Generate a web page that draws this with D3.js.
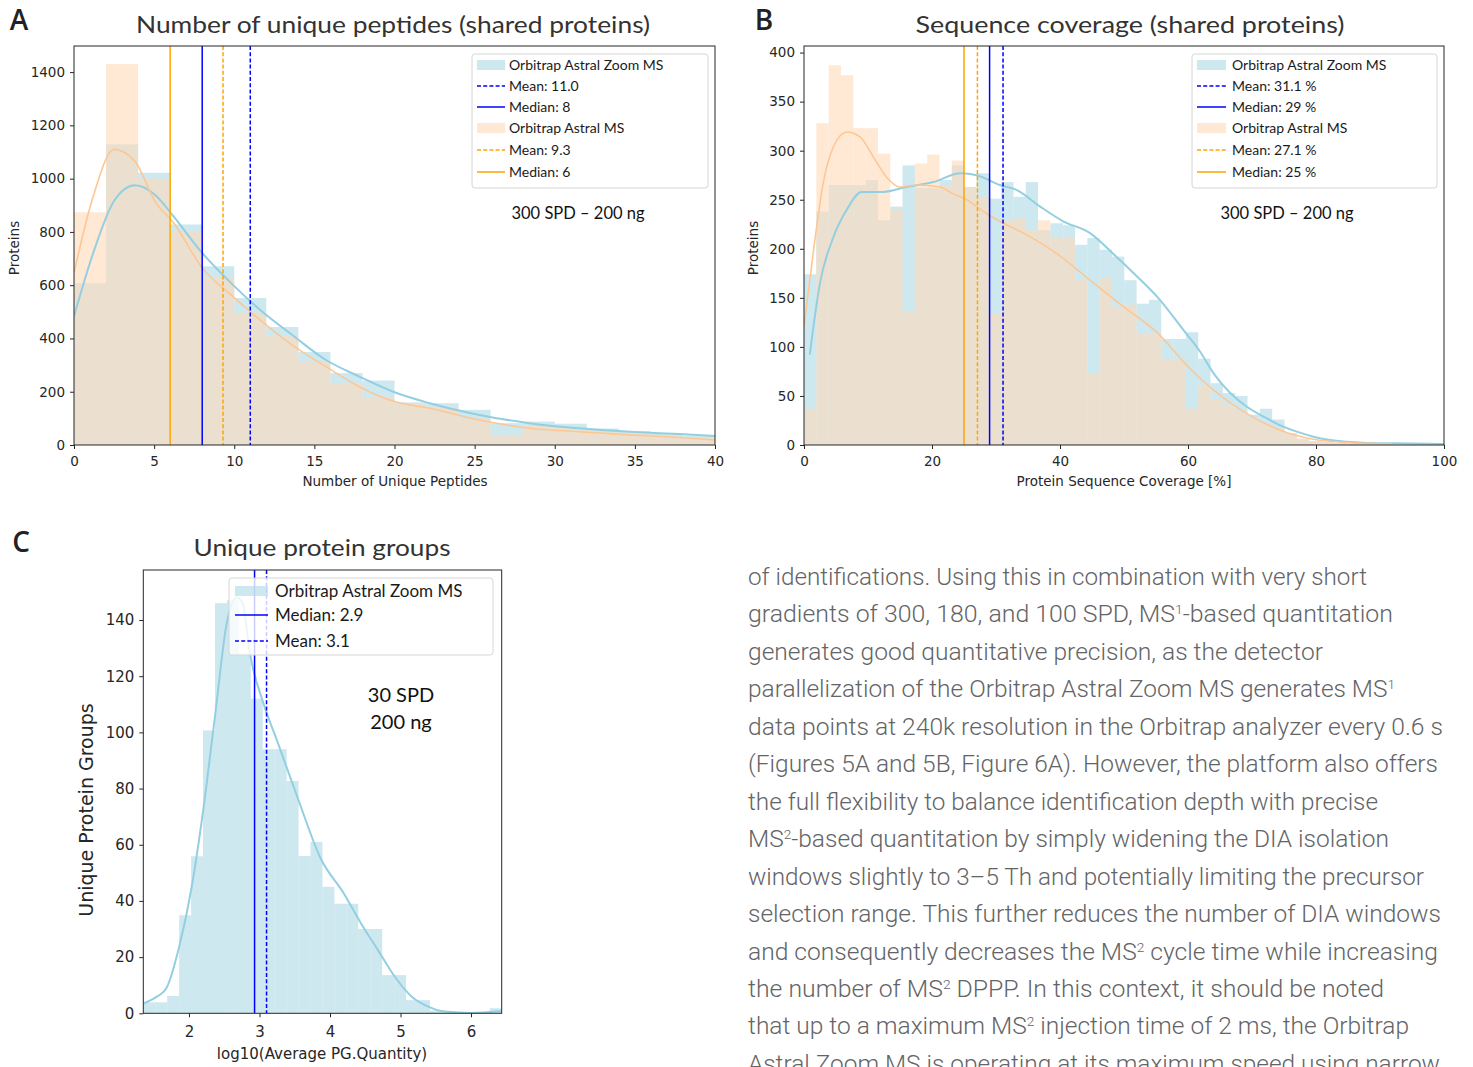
<!DOCTYPE html>
<html><head><meta charset="utf-8">
<script src="https://cdn.jsdelivr.net/npm/d3@7"></script>
<style>body{margin:0;background:#fff;overflow:hidden}</style>
</head><body>
<script>
// ================= DATA =================
// Panel A : number of unique peptides
const pepBinStart = 0, pepBinWidth = 2;
const pepCountsZoom   = [608,1129,1022,828,671,552,443,349,270,242,160,157,132,82,88,80,62,52,42,35];
const pepCountsAstral = [874,1430,1000,800,630,497,408,314,233,177,155,140,100,38,75,65,55,45,38,30];
const pepKdeX      = [0,1.2,2.5,3.8,5.1,6.2,8,9.9,11.6,13.6,15.7,17.8,20,22.2,25.3,28.4,31.5,34.7,37.8,40];
const pepKdeZoom   = [483,721,916,975,937,859,721,602,508,414,320,257,198,157,113,82,63,50,41,34];
const pepKdeAstral = [646,934,1110,1065,910,835,665,558,470,376,295,219,163,138,94,63,50,38,28,19];
const pepStatValues = [11.0, 8, 9.3, 6];          // zoom mean, zoom median, astral mean, astral median
const pepLegendLabels = ["Orbitrap Astral Zoom MS","Mean: 11.0","Median: 8","Orbitrap Astral MS","Mean: 9.3","Median: 6"];
const pepXTicks = [0,5,10,15,20,25,30,35,40];
const pepYTicks = [0,200,400,600,800,1000,1200,1400];

// Panel B : sequence coverage
const covBinStart = 0, covBinWidth = 1.925;
const covCountsZoom   = [174,238,265,265,265,270,229,243,285,262,262,270,285,263,277,251,268,253,268,219,226,224,204,211,199,192,168,144,148,108,108,115,88,63,53,50,31,37,26,12,6,4,3,2,1,1,1,0.5,0.5,0.5,0.5,0.5];
const covCountsAstral = [37,328,387,377,323,323,297,240,136,287,296,265,290,262,253,134,229,231,219,229,211,211,168,73,170,141,143,114,114,87,87,37,61,46,40,35,28,22,17,12,7,4,3,2,1,1,0.5,0,0,0,0,0];
const covKdeZoomX = [0.9,2.5,4.6,6.7,9.0,12.4,16.0,20.2,24.4,27,30.6,33.2,36.9,40.5,44.7,48.3,52,55.6,59.3,61.9,64,66.6,69.2,71.8,74.4,77,79.6,82.2,84.8,87.3,92.6,100];
const covKdeZoomY = [92,165,212,240,258,258,263,268,277,275,265,260,243,228,216,195,172,148,117,95,73,53,39,29,20,13.6,8.5,5,3.4,2.4,1.7,1];
const covKdeAstralX = [0,1.5,3.0,4.6,6.7,8.75,10.8,12.9,15,17.6,21.25,23.3,25.4,28.5,30.6,34.3,39.5,44.7,49.9,55.1,60.3,64,69.2,74.4,79.6,84.8,92];
const covKdeAstralY = [121,199,267,304,319,314,294,273,263,265,263,256,250,236,228,216,195,168,141,115,78,56,32,15,5.8,2.4,1];
const covStatValues = [31.1, 29, 27.1, 25];
const covLegendLabels = ["Orbitrap Astral Zoom MS","Mean: 31.1 %","Median: 29 %","Orbitrap Astral MS","Mean: 27.1 %","Median: 25 %"];
const covXTicks = [0,20,40,60,80,100];
const covYTicks = [0,50,100,150,200,250,300,350,400];

// Panel C : unique protein groups
const qtyBinStart = 1.352, qtyBinWidth = 0.1694;
const qtyCounts = [3.9,3.9,6.2,34.9,55.9,100.7,146,147,128,112,94,94,82.7,56,61,45,39,39,30,30,13.6,13.6,4.7,4.7,1,0.5,0,0,0,1.8];
const qtyKdeX = [1.352,1.51,1.68,1.86,2.03,2.2,2.37,2.54,2.68,2.76,2.865,3.06,3.25,3.54,3.87,4.2,4.44,4.68,4.92,5.16,5.4,5.63,6.0,6.435];
const qtyKdeY = [3.5,5.4,9,23.6,43.8,72,106,139.5,148,146,128,110,97,76.8,55,42.5,32,22.5,13,5.9,2.3,0.6,0.1,0.8];
const qtyStatValues = [2.93, 3.1];   // median, mean
const qtyLegendLabels = ["Orbitrap Astral Zoom MS","Median: 2.9","Mean: 3.1"];
const qtyXTicks = [2,3,4,5,6];
const qtyYTicks = [0,20,40,60,80,100,120,140];

// Body text
const paraLines = [
 "of identifications. Using this in combination with very short",
 "gradients of 300, 180, and 100 SPD, MS^1-based quantitation",
 "generates good quantitative precision, as the detector",
 "parallelization of the Orbitrap Astral Zoom MS generates MS^1",
 "data points at 240k resolution in the Orbitrap analyzer every 0.6 s",
 "(Figures 5A and 5B, Figure 6A). However, the platform also offers",
 "the full flexibility to balance identification depth with precise",
 "MS^2-based quantitation by simply widening the DIA isolation",
 "windows slightly to 3\u20135 Th and potentially limiting the precursor",
 "selection range. This further reduces the number of DIA windows",
 "and consequently decreases the MS^2 cycle time while increasing",
 "the number of MS^2 DPPP. In this context, it should be noted",
 "that up to a maximum MS^2 injection time of 2 ms, the Orbitrap",
 "Astral Zoom MS is operating at its maximum speed using narrow"
];

// ================= LAYOUT / STYLE =================
const paraLineEnds = [1367,1393,1323,1395,1443,1438,1378,1389,1424,1441,1438,1384,1409,1440];
const BLUE_FILL = "#add8e6", ORANGE_FILL = "#ffdab9";
const BLUE_KDE = "#93cfe1", ORANGE_KDE = "#fcc794";
const LINE_BLUE = "#0000ff", LINE_ORANGE = "#ffa500";
const TXT = "#262626";
const UI_FONT = "Lato, 'Open Sans', sans-serif";

const svg = d3.select("body").append("svg").attr("width",1473).attr("height",1067)
  .style("font-family","'DejaVu Sans', sans-serif");

let clipId = 0;
function makePanel(o){
  const x = d3.scaleLinear().domain(o.xDomain).range([o.left,o.right]);
  const y = d3.scaleLinear().domain(o.yDomain).range([o.bottom,o.top]);
  const g = svg.append("g");
  const id = "clip"+(clipId++);
  g.append("clipPath").attr("id",id).append("rect")
    .attr("x",o.left).attr("y",o.top).attr("width",o.right-o.left).attr("height",o.bottom-o.top);
  const plot = g.append("g").attr("clip-path",`url(#${id})`);
  return {x,y,g,plot,o};
}
function bars(p, start, width, counts, fill){
  const data = counts.map((c,i)=>({x0:start+i*width, x1:start+(i+1)*width, c}));
  p.plot.append("g").selectAll("rect").data(data).join("rect")
    .attr("x",d=>p.x(d.x0)).attr("width",d=>p.x(d.x1)-p.x(d.x0))
    .attr("y",d=>p.y(d.c)).attr("height",d=>p.y(0)-p.y(d.c))
    .attr("fill",fill).attr("fill-opacity",0.6);
}
function kde(p, xs, ys, color, w){
  const line = d3.line().x(d=>p.x(d[0])).y(d=>p.y(d[1])).curve(d3.curveMonotoneX);
  p.plot.append("path").datum(xs.map((v,i)=>[v,ys[i]])).attr("d",line)
    .attr("fill","none").attr("stroke",color).attr("stroke-width",w);
}
function vline(p, v, color, dashed){
  p.plot.append("line").attr("x1",p.x(v)).attr("x2",p.x(v))
    .attr("y1",p.o.top).attr("y2",p.o.bottom)
    .attr("stroke",color).attr("stroke-width",1.5)
    .attr("stroke-dasharray",dashed?"4,2.2":null);
}
function axes(p, xTicks, yTicks, fs, xpad){
  const o = p.o;
  const ax = p.g.append("g").attr("transform",`translate(0,${o.bottom})`)
    .call(d3.axisBottom(p.x).tickValues(xTicks).tickSize(4).tickPadding(xpad).tickFormat(d3.format("d")));
  const ay = p.g.append("g").attr("transform",`translate(${o.left},0)`)
    .call(d3.axisLeft(p.y).tickValues(yTicks).tickSize(4).tickPadding(5).tickFormat(d3.format("d")));
  [ax,ay].forEach(a=>{
    a.select(".domain").remove();
    a.selectAll("line").attr("stroke",TXT);
    a.selectAll("text").attr("font-size",fs).attr("fill",TXT).attr("font-family","'DejaVu Sans', sans-serif");
  });
  p.g.append("rect").attr("x",o.left).attr("y",o.top).attr("width",o.right-o.left).attr("height",o.bottom-o.top)
    .attr("fill","none").attr("stroke",TXT).attr("stroke-width",1);
}
function legend(p, box, items, fs, rowYs, sx0, sx1, tx){
  const g = p.g.append("g");
  g.append("rect").attr("x",box[0]).attr("y",box[1]).attr("width",box[2]).attr("height",box[3])
    .attr("rx",3).attr("fill","#fff").attr("fill-opacity",0.8).attr("stroke","#d6d6d6").attr("stroke-width",1);
  items.forEach((it,i)=>{
    const cy = rowYs[i];
    if(it.type==="patch"){
      g.append("rect").attr("x",sx0).attr("y",cy-5).attr("width",sx1-sx0).attr("height",10)
        .attr("fill",it.color).attr("fill-opacity",0.6);
    } else {
      g.append("line").attr("x1",sx0).attr("x2",sx1).attr("y1",cy).attr("y2",cy)
        .attr("stroke",it.color).attr("stroke-width",1.5).attr("stroke-dasharray",it.type==="dash"?"4,2.2":null);
    }
    g.append("text").attr("x",tx).attr("y",cy).attr("dy","0.35em").attr("font-size",fs)
      .attr("font-family",UI_FONT).attr("fill","#1a1a1a").text(it.label);
  });
}
function label(txt, x, y, fs, opts={}){
  const t = svg.append("text").attr("x",x).attr("y",y).attr("font-size",fs)
    .attr("text-anchor",opts.anchor||"middle").attr("fill",opts.fill||TXT)
    .attr("font-family",opts.font||"'DejaVu Sans', sans-serif")
    .attr("font-weight",opts.weight||"normal").text(txt);
  if(opts.rotate) t.attr("transform",`rotate(-90,${x},${y})`);
  if(opts.len) t.attr("textLength",opts.len).attr("lengthAdjust","spacingAndGlyphs");
  return t;
}

// ---------- Panel A ----------
const pA = makePanel({left:74,right:715,top:46,bottom:445,xDomain:[0,40],yDomain:[0,1498]});
bars(pA, pepBinStart, pepBinWidth, pepCountsZoom, BLUE_FILL);
bars(pA, pepBinStart, pepBinWidth, pepCountsAstral, ORANGE_FILL);
kde(pA, pepKdeX, pepKdeZoom, BLUE_KDE, 2);
kde(pA, pepKdeX, pepKdeAstral, ORANGE_KDE, 1.6);
vline(pA, pepStatValues[3], LINE_ORANGE, false);
vline(pA, pepStatValues[1], LINE_BLUE, false);
vline(pA, pepStatValues[2], LINE_ORANGE, true);
vline(pA, pepStatValues[0], LINE_BLUE, true);
axes(pA, pepXTicks, pepYTicks, 13.5, 7);
legend(pA, [472,54,236,134], [
  {type:"patch",color:BLUE_FILL,label:pepLegendLabels[0]},
  {type:"dash",color:LINE_BLUE,label:pepLegendLabels[1]},
  {type:"line",color:LINE_BLUE,label:pepLegendLabels[2]},
  {type:"patch",color:ORANGE_FILL,label:pepLegendLabels[3]},
  {type:"dash",color:LINE_ORANGE,label:pepLegendLabels[4]},
  {type:"line",color:LINE_ORANGE,label:pepLegendLabels[5]}
], 14, [65,86,107,128,150,172], 477, 505, 509);
label("300 SPD \u2013 200 ng", 578, 219, 16.5, {font:UI_FONT, fill:"#111"});
label("Number of unique peptides (shared proteins)", 393, 33, 23, {font:UI_FONT, fill:"#333", len:514});
label("Number of Unique Peptides", 395, 486, 13.5);
label("Proteins", 19, 248, 13.5, {rotate:true});
label("A", 19, 30, 28, {font:"'Open Sans', sans-serif", weight:600, fill:"#222"});

// ---------- Panel B ----------
const pB = makePanel({left:804,right:1444,top:46,bottom:445,xDomain:[0,100],yDomain:[0,406.7]});
bars(pB, covBinStart, covBinWidth, covCountsZoom, BLUE_FILL);
bars(pB, covBinStart, covBinWidth, covCountsAstral, ORANGE_FILL);
kde(pB, covKdeZoomX, covKdeZoomY, BLUE_KDE, 2);
kde(pB, covKdeAstralX, covKdeAstralY, ORANGE_KDE, 1.6);
vline(pB, covStatValues[3], LINE_ORANGE, false);
vline(pB, covStatValues[2], LINE_ORANGE, true);
vline(pB, covStatValues[1], LINE_BLUE, false);
vline(pB, covStatValues[0], LINE_BLUE, true);
axes(pB, covXTicks, covYTicks, 13.5, 7);
legend(pB, [1192,54,245,134], [
  {type:"patch",color:BLUE_FILL,label:covLegendLabels[0]},
  {type:"dash",color:LINE_BLUE,label:covLegendLabels[1]},
  {type:"line",color:LINE_BLUE,label:covLegendLabels[2]},
  {type:"patch",color:ORANGE_FILL,label:covLegendLabels[3]},
  {type:"dash",color:LINE_ORANGE,label:covLegendLabels[4]},
  {type:"line",color:LINE_ORANGE,label:covLegendLabels[5]}
], 14, [65,86,107,128,150,172], 1197, 1226, 1232);
label("300 SPD \u2013 200 ng", 1287, 219, 16.5, {font:UI_FONT, fill:"#111"});
label("Sequence coverage (shared proteins)", 1130, 33, 23, {font:UI_FONT, fill:"#333", len:429});
label("Protein Sequence Coverage [%]", 1124, 486, 13.5);
label("Proteins", 758, 248, 13.5, {rotate:true});
label("B", 764, 30, 28, {font:"'Open Sans', sans-serif", weight:600, fill:"#222"});

// ---------- Panel C ----------
const pC = makePanel({left:143.3,right:501.7,top:570,bottom:1013.3,xDomain:[1.352,6.435],yDomain:[0,157.8]});
bars(pC, qtyBinStart, qtyBinWidth, qtyCounts, BLUE_FILL);
kde(pC, qtyKdeX, qtyKdeY, BLUE_KDE, 2);
vline(pC, qtyStatValues[0], LINE_BLUE, false);
vline(pC, qtyStatValues[1], LINE_BLUE, true);
axes(pC, qtyXTicks, qtyYTicks, 15, 9);
legend(pC, [229,578,264,77], [
  {type:"patch",color:BLUE_FILL,label:qtyLegendLabels[0]},
  {type:"line",color:LINE_BLUE,label:qtyLegendLabels[1]},
  {type:"dash",color:LINE_BLUE,label:qtyLegendLabels[2]}
], 17, [591,615,641], 235, 268, 275);
label("30 SPD", 401, 702, 20, {font:UI_FONT, fill:"#111"});
label("200 ng", 401, 729, 20, {font:UI_FONT, fill:"#111"});
label("Unique protein groups", 322, 556, 23, {font:UI_FONT, fill:"#333", len:257});
label("log10(Average PG.Quantity)", 322, 1059, 15);
label("Unique Protein Groups", 93, 810, 19, {rotate:true});
label("C", 21, 552, 28, {font:"'Open Sans', sans-serif", weight:600, fill:"#222"});

// ---------- Body text ----------
paraLines.forEach((ln,i)=>{
  const t = svg.append("text").attr("x",748).attr("y",585+i*37.45)
    .attr("font-family","Roboto, sans-serif").attr("font-weight",300)
    .attr("font-size",23.5).attr("fill","#636466")
    .attr("textLength",paraLineEnds[i]-748).attr("lengthAdjust","spacingAndGlyphs");
  const parts = ln.split(/(\^\d)/).filter(s=>s.length);
  let sup = false;
  parts.forEach(s=>{
    if(s[0]==="^"){
      t.append("tspan").attr("dy",-8).attr("font-size",13).text(s.slice(1));
      sup = true;
    } else {
      const ts = t.append("tspan").text(s);
      if(sup){ ts.attr("dy",8); sup=false; }
    }
  });
});
</script>
</body></html>
